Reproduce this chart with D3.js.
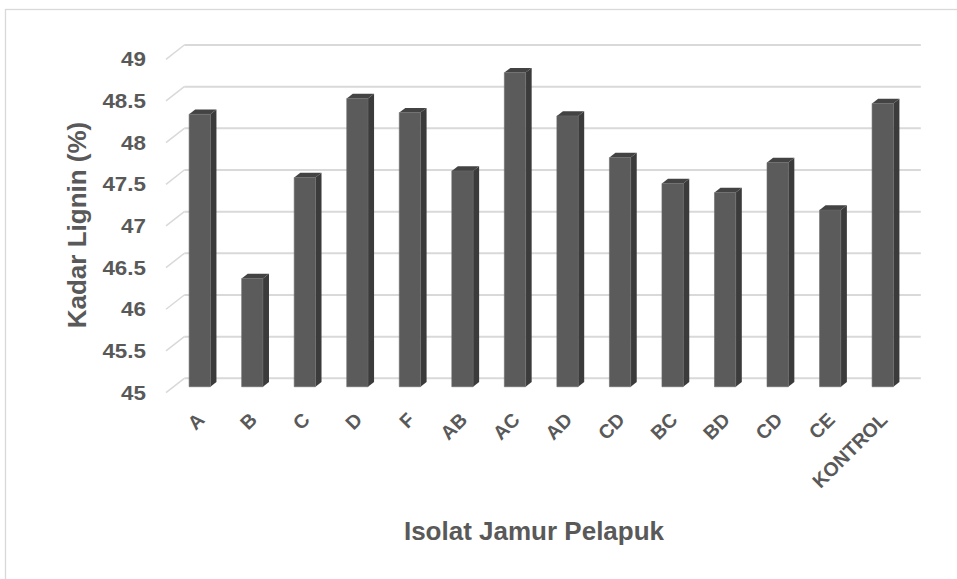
<!DOCTYPE html>
<html><head><meta charset="utf-8">
<script src="https://cdn.jsdelivr.net/npm/d3@7"></script>
<style>body{margin:0;background:#fff}svg{display:block}text{font-family:"Liberation Sans",Arial,sans-serif;font-weight:bold;fill:#595959}</style>
</head><body>
<script>
const categories = ["A","B","C","D","F","AB","AC","AD","CD","BC","BD","CD ","CE","KONTROL"];
const values = [48.27,46.30,47.51,48.46,48.29,47.59,48.77,48.25,47.75,47.44,47.33,47.69,47.12,48.40];
const yTicks = [45,45.5,46,46.5,47,47.5,48,48.5,49];
const xTitle = "Isolat Jamur Pelapuk";
const yTitle = "Kadar Lignin (%)";

const W = 957, H = 579;
const svg = d3.select("body").append("svg").attr("width", W).attr("height", H);

// frame
svg.append("rect").attr("x",5.5).attr("y",9.5).attr("width",1000).attr("height",1000)
  .attr("fill","none").attr("stroke","#d9d9d9").attr("stroke-width",1.3);

const depthX = 18.3, depthY = 14.3;
const y = d3.scaleLinear().domain([45,49]).range([392.6, 59.3]);
const x = d3.scaleBand().domain(d3.range(categories.length)).range([166, 901.5])
  .paddingInner(0.595).paddingOuter(0.2975);
const proj = (px, py, d) => [px + d*depthX, py - d*depthY];

// gridlines (side wall diagonal + back wall)
const grid = svg.append("g");
yTicks.forEach(t => {
  const [bx, by] = proj(166, y(t), 1);
  grid.append("line").attr("x1",166).attr("y1",y(t)).attr("x2",bx).attr("y2",by)
    .attr("stroke","#d9d9d9").attr("stroke-width",1.5);
  grid.append("line").attr("x1",bx).attr("y1",by).attr("x2",901.5+depthX+1).attr("y2",by)
    .attr("stroke","#d9d9d9").attr("stroke-width",2);
});

// y tick labels
svg.append("g").selectAll("text").data(yTicks).join("text")
  .attr("transform",d=>`translate(146,${y(d)}) scale(1.12,1)`)
  .attr("dy","0.35em").attr("text-anchor","end")
  .attr("font-size",20).text(d=>d);

// bars
const d1 = 0.41, d2 = 0.74;
const bars = svg.append("g");
values.forEach((v,i) => {
  const xl = x(i), xr = x(i)+x.bandwidth();
  const yt = y(v), yb = y(45);
  const FLT = proj(xl,yt,d1), FRT = proj(xr,yt,d1), FRB = proj(xr,yb,d1), FLB = proj(xl,yb,d1);
  const BLT = proj(xl,yt,d2), BRT = proj(xr,yt,d2), BRB = proj(xr,yb,d2);
  bars.append("polygon").attr("points",[FRT,BRT,BRB,FRB].join(" ")).attr("fill","#3b3b3b");
  bars.append("polygon").attr("points",[FLT,FRT,BRT,BLT].join(" ")).attr("fill","#434343");
  bars.append("polygon").attr("points",[FLT,FRT,FRB,FLB].join(" ")).attr("fill","#5b5b5b")
    .attr("stroke","#6a6a6a").attr("stroke-width",0.6);
});

// x labels
svg.append("g").selectAll("text").data(categories).join("text")
  .attr("transform",(d,i)=>{const cx = x(i)+x.bandwidth()/2 + d1*depthX; return `translate(${cx+6},421) rotate(-45)`;})
  .attr("text-anchor","end").attr("font-size",19.5).text(d=>d.trim());

// axis titles
svg.append("text").attr("x",534).attr("y",540).attr("text-anchor","middle").attr("font-size",26).text(xTitle);
svg.append("text").attr("transform","translate(86,225) rotate(-90)").attr("text-anchor","middle")
  .attr("font-size",26).text(yTitle);
</script>
</body></html>
